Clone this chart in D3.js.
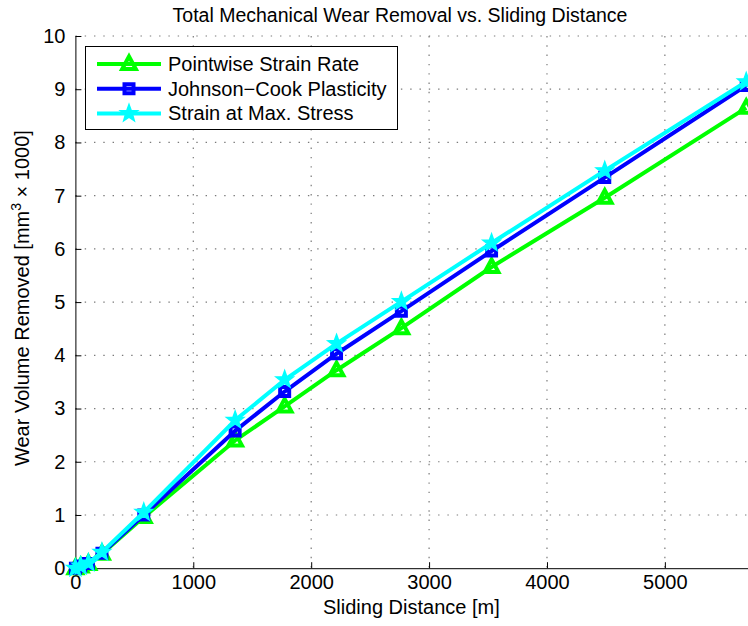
<!DOCTYPE html>
<html>
<head>
<meta charset="utf-8">
<script src="https://cdn.jsdelivr.net/npm/d3@7"></script>
<style>
  body { margin: 0; background: #fff; }
  svg text { font-family: "Liberation Sans", Arial, Helvetica, sans-serif; fill: #000; }
</style>
</head>
<body>
<svg id="chart" width="748" height="626"></svg>
<script>
// Sliding distance [m] at each sample
const distance = [0, 45, 110, 225, 580, 1355, 1775, 2215, 2765, 3530, 4490, 5690];
// Wear volume removed [mm^3 x 1000] for each model
const pointwiseStrainRate = [0, 0.03, 0.08, 0.27, 0.96, 2.40, 3.04, 3.72, 4.51, 5.66, 6.96, 8.65];
const johnsonCookPlasticity = [0, 0.04, 0.09, 0.28, 1.00, 2.58, 3.32, 4.03, 4.83, 5.96, 7.34, 9.07];
const strainAtMaxStress = [0, 0.04, 0.10, 0.30, 1.05, 2.78, 3.54, 4.22, 5.01, 6.11, 7.47, 9.14];

const seriesNames = ["Pointwise Strain Rate", "Johnson\u2212Cook Plasticity", "Strain at Max. Stress"];
const seriesColors = ["#00ff00", "#0000ff", "#00ffff"];
const seriesMarkers = ["triangle", "square", "star"];
const seriesValues = [pointwiseStrainRate, johnsonCookPlasticity, strainAtMaxStress];

const xTicks = [0, 1000, 2000, 3000, 4000, 5000];
const yTicks = [0, 1, 2, 3, 4, 5, 6, 7, 8, 9, 10];

const svg = d3.select("#chart");
const W = 748, H = 626;
svg.append("rect").attr("width", W).attr("height", H).attr("fill", "#fff");

const plot = { left: 75.4, right: 747.4, top: 36, bottom: 568.2 };
const x = d3.scaleLinear().domain([0, 5700]).range([plot.left, plot.right]);
const y = d3.scaleLinear().domain([0, 10]).range([plot.bottom, plot.top]);

// dotted grid at major ticks
const grid = svg.append("g").attr("stroke", "#7a7a7a").attr("stroke-width", 1.2)
  .attr("stroke-dasharray", "1.4,7.9").attr("fill", "none");
xTicks.filter(d => d > 0).forEach(d => {
  grid.append("line").attr("x1", x(d)).attr("x2", x(d)).attr("y1", plot.top).attr("y2", plot.bottom);
});
yTicks.filter(d => d > 0).forEach(d => {
  grid.append("line").attr("x1", plot.left).attr("x2", W).attr("y1", y(d)).attr("y2", y(d));
});

// axes with inward ticks
const xAxis = d3.axisBottom(x).tickValues(xTicks).tickSizeInner(-6).tickSizeOuter(0).tickPadding(7)
  .tickFormat(d3.format("d"));
const gx = svg.append("g").attr("transform", `translate(0,${plot.bottom})`).call(xAxis);
gx.select(".domain").attr("d", `M${plot.left},0.5H${W}`).attr("stroke", "#000");
gx.selectAll(".tick line").attr("stroke", "#000");
gx.selectAll(".tick text").attr("font-size", 20).attr("font-family", null);

const yAxis = d3.axisLeft(y).tickValues(yTicks).tickSizeInner(-6).tickSizeOuter(0).tickPadding(10)
  .tickFormat(d3.format("d"));
const gy = svg.append("g").attr("transform", `translate(${plot.left},0)`).call(yAxis);
gy.select(".domain").attr("stroke", "#000");
gy.selectAll(".tick line").attr("stroke", "#000");
gy.selectAll(".tick text").attr("font-size", 20).attr("font-family", null);

// marker shapes
function markerPath(kind) {
  if (kind === "triangle") return "M0,-7.5L6.8,5L-6.8,5Z";
  if (kind === "square") return "M-4.5,-4.5H4.5V4.5H-4.5Z";
  const pts = [];
  for (let i = 0; i < 10; i++) {
    const r = i % 2 === 0 ? 9 : 3.7;
    const a = -Math.PI / 2 + i * Math.PI / 5;
    pts.push([r * Math.cos(a), r * Math.sin(a)]);
  }
  return "M" + pts.map(p => p[0].toFixed(2) + "," + p[1].toFixed(2)).join("L") + "Z";
}
function drawMarker(g, kind, color) {
  const p = g.append("path").attr("d", markerPath(kind)).attr("stroke", color);
  if (kind === "star") p.attr("fill", color).attr("stroke-width", 1.5).attr("stroke-linejoin", "miter");
  else p.attr("fill", "none").attr("stroke-width", 4).attr("stroke-linejoin", "miter");
}

const line = d3.line().x((d, i) => x(distance[i])).y(d => y(d));
seriesValues.forEach((vals, s) => {
  const g = svg.append("g");
  g.append("path").datum(vals).attr("d", line).attr("fill", "none")
    .attr("stroke", seriesColors[s]).attr("stroke-width", 4).attr("stroke-linejoin", "miter");
  vals.forEach((v, i) => {
    const m = g.append("g").attr("transform", `translate(${x(distance[i])},${y(v)})`);
    drawMarker(m, seriesMarkers[s], seriesColors[s]);
  });
});

// legend
const leg = svg.append("g").attr("transform", "translate(85.5,46.5)");
leg.append("rect").attr("width", 312).attr("height", 83).attr("fill", "#fff").attr("stroke", "#000");
seriesNames.forEach((name, s) => {
  const ry = 17.5 + s * 24.7;
  const row = leg.append("g").attr("transform", `translate(0,${ry})`);
  row.append("line").attr("x1", 11.5).attr("x2", 75.5).attr("y1", 0).attr("y2", 0)
    .attr("stroke", seriesColors[s]).attr("stroke-width", 4);
  const m = row.append("g").attr("transform", "translate(43.5,0)");
  drawMarker(m, seriesMarkers[s], seriesColors[s]);
  row.append("text").attr("x", 82.5).attr("y", 7).attr("font-size", 20).text(name);
});

// title and axis labels
svg.append("text").attr("x", 400).attr("y", 22).attr("text-anchor", "middle")
  .attr("font-size", 19.5).text("Total Mechanical Wear Removal vs. Sliding Distance");
svg.append("text").attr("x", (plot.left + plot.right) / 2).attr("y", 614).attr("text-anchor", "middle")
  .attr("font-size", 20).text("Sliding Distance [m]");

const yl = svg.append("text").attr("transform", `translate(29,${(plot.top + plot.bottom) / 2 - 4}) rotate(-90)`)
  .attr("text-anchor", "middle").attr("font-size", 20);
yl.append("tspan").text("Wear Volume Removed [mm");
yl.append("tspan").attr("font-size", 14).attr("dy", -8).text("3");
yl.append("tspan").attr("dy", 8).text(" \u00d7 1000]");
</script>
</body>
</html>
